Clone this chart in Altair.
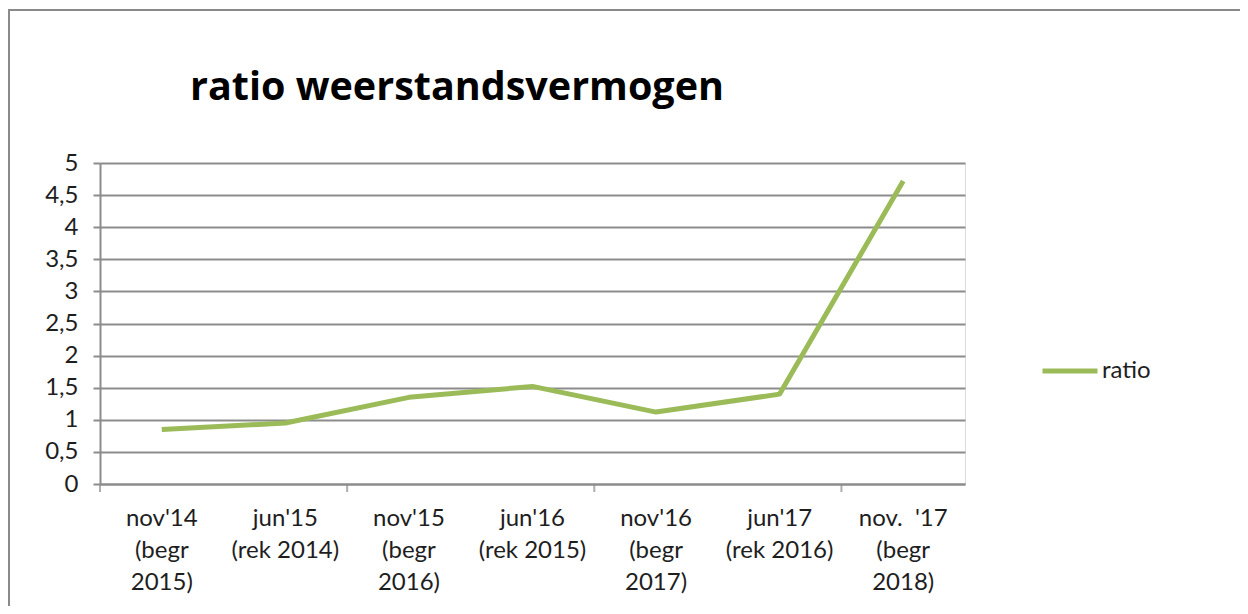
import altair as alt
import pandas as pd

categories = [
    "nov'14|(begr|2015)",
    "jun'15|(rek 2014)",
    "nov'15|(begr|2016)",
    "jun'16|(rek 2015)",
    "nov'16|(begr|2017)",
    "jun'17|(rek 2016)",
    "nov.\u00a0 '17|(begr|2018)",
]
ratio = [0.85, 0.95, 1.35, 1.52, 1.12, 1.40, 4.72]
series = ["ratio"] * len(categories)

df = pd.DataFrame({"periode": categories, "ratio": ratio, "reeks": series})

FONT = "Lato"
GRID = "#8c8c8c"
TXT = "#1e1e1e"

x_enc = alt.X(
    "periode:N",
    sort=categories,
    scale=alt.Scale(paddingInner=0, paddingOuter=0),
    axis=alt.Axis(
        title=None,
        labelExpr="split(datum.label, '|')",
        labelAngle=0,
        labelFontSize=24,
        labelFont=FONT,
        labelColor=TXT,
        labelLineHeight=32,
        labelPadding=22,
        labelBaseline="top",
        ticks=False,
        domainColor=GRID,
        domainWidth=2,
        grid=False,
    ),
)

line = alt.Chart(df).mark_line(strokeWidth=5, strokeCap="butt", strokeJoin="round").encode(
    x=x_enc,
    y=alt.Y(
        "ratio:Q",
        scale=alt.Scale(domain=[0, 5], nice=False),
        axis=alt.Axis(
            title=None,
            values=[0, 0.5, 1, 1.5, 2, 2.5, 3, 3.5, 4, 4.5, 5],
            labelExpr="replace(toString(datum.value), '.', ',')",
            labelFontSize=24,
            labelFont=FONT,
            labelColor=TXT,
            labelPadding=15,
            tickSize=7,
            tickColor=GRID,
            tickWidth=2,
            domainColor=GRID,
            domainWidth=2,
            gridColor=GRID,
            gridWidth=2,
        ),
    ),
    color=alt.Color(
        "reeks:N",
        scale=alt.Scale(range=["#9BBB59"]),
        legend=alt.Legend(
            title=None,
            orient="none",
            legendX=940,
            legendY=178,
            symbolType="stroke",
            symbolSize=3025,
            symbolStrokeWidth=5,
            labelFontSize=24,
            labelFont=FONT,
            labelColor=TXT,
            labelOffset=2,
        ),
    ),
)

# x-axis tick marks every second category boundary
tick_cats = [categories[0], categories[2], categories[4], categories[6]]
ticks = alt.Chart(pd.DataFrame({"periode": tick_cats})).mark_tick(
    orient="vertical", color=GRID, thickness=2, size=8, yOffset=4
).encode(
    x=alt.X("periode:N", sort=categories, bandPosition=0),
    y=alt.value(321),
)

frame = alt.Chart(pd.DataFrame({"a": [0]})).mark_rect(
    fill=None, stroke="#8a8a8a", strokeWidth=2, clip=False
).encode(
    x=alt.value(-91), x2=alt.value(1300), y=alt.value(-153), y2=alt.value(700)
)

chart = alt.layer(frame, line, ticks).properties(
    width=865,
    height=321,
    title=alt.TitleParams(
        "ratio weerstandsvermogen",
        anchor="start",
        frame="group",
        dx=90,
        offset=-130,
        baseline="alphabetic",
        fontSize=39.5,
        font="Open Sans",
        fontWeight="bold",
        color="#000000",
    ),
    autosize=alt.AutoSizeParams(type="none"),
    padding={"left": 92, "top": 155, "right": 275, "bottom": 122},
).configure_view(stroke=None).configure(background="white")

chart.save("out.html", embed_options={"renderer": "svg", "actions": False})
